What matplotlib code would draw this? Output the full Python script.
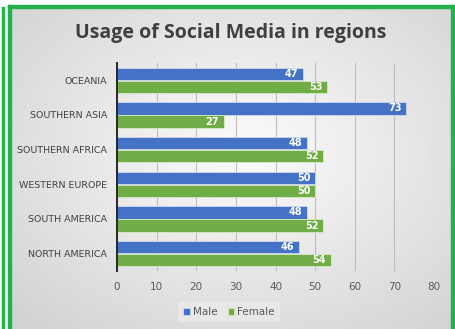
import numpy as np
import matplotlib
matplotlib.use("Agg")
import matplotlib.pyplot as plt
from matplotlib.patches import Rectangle

regions = ["OCEANIA", "SOUTHERN ASIA", "SOUTHERN AFRICA", "WESTERN EUROPE", "SOUTH AMERICA", "NORTH AMERICA"]
male = [47, 73, 48, 50, 48, 46]
female = [53, 27, 52, 50, 52, 54]
xticks = [0, 10, 20, 30, 40, 50, 60, 70, 80]

W, H = 455, 329
fig = plt.figure(figsize=(W / 100, H / 100), dpi=100)
fig.patch.set_facecolor("white")

# background gradient panel
bg = fig.add_axes([9 / W, 0, (452 - 9) / W, (H - 6) / H])
bg.set_axis_off()
yy, xx = np.mgrid[0:200, 0:300]
cx, cy = 160, 90
r = np.sqrt(((xx - cx) / 300) ** 2 + ((yy - cy) / 200) ** 2)
val = 0.985 - 0.22 * r
val = np.clip(val, 0.83, 0.985)
bg.imshow(val, cmap="gray", vmin=0, vmax=1, aspect="auto", extent=[0, 1, 0, 1])
bg.set_xlim(0, 1)
bg.set_ylim(0, 1)

# frame borders
gc = "#22B14C"
fig.patches.append(Rectangle((8 / W, -0.01), 2.5 / W, (H - 5) / H + 0.01, transform=fig.transFigure,
                             color=gc, zorder=5))
fig.patches.append(Rectangle((451 / W, -0.01), 2.5 / W, (H - 5) / H + 0.01, transform=fig.transFigure,
                             color=gc, zorder=5))
fig.patches.append(Rectangle((8 / W, (H - 7.5) / H), (454 - 8) / W, 2.5 / H, transform=fig.transFigure,
                             color=gc, zorder=5))
fig.patches.append(Rectangle((1.5 / W, -0.01), 2 / W, (H - 7) / H + 0.01, transform=fig.transFigure,
                             color=gc, zorder=5))

# main axes: x 117..434, y 63..271 (pixels from top)
ax = fig.add_axes([117 / W, (H - 271) / H, (434 - 117) / W, (271 - 63) / H])
ax.set_facecolor("none")

n = len(regions)
y = np.arange(n)
h = 0.36
ax.barh(y - h / 2 - 0.01, male, height=h, color="#4472C4", edgecolor="#D0DAF0", linewidth=0.6, label="Male", zorder=3)
ax.barh(y + h / 2 + 0.01, female, height=h, color="#70AD47", edgecolor="#D5EBC8", linewidth=0.6, label="Female", zorder=3)

for i in range(n):
    ax.text(male[i] - 1.2, y[i] - h / 2 - 0.01, str(male[i]), ha="right", va="center",
            color="white", fontsize=7, fontweight="bold", zorder=4)
    ax.text(female[i] - 1.2, y[i] + h / 2 + 0.01, str(female[i]), ha="right", va="center",
            color="white", fontsize=7, fontweight="bold", zorder=4)

ax.set_ylim(n - 0.5, -0.5)
ax.set_xlim(0, 80)
ax.set_xticks(xticks)
ax.set_xticklabels([str(t) for t in xticks], color="#595959", fontsize=7.5)
ax.set_yticks(y)
ax.set_yticklabels(regions, color="#404040", fontsize=6.8)
ax.tick_params(axis="both", length=0, pad=8)
ax.tick_params(axis="y", pad=7)
ax.grid(axis="x", color="#BEBEBE", linewidth=0.8, zorder=0)
for s in ["top", "right", "bottom"]:
    ax.spines[s].set_visible(False)
ax.spines["left"].set_color("#262626")
ax.spines["left"].set_linewidth(1.4)
ax.spines["left"].set_zorder(5)

fig.text(231 / W, 1 - 33 / H, "Usage of Social Media in regions", ha="center", va="center",
         fontsize=14, fontweight="bold", color="#404040", family="Open Sans")

leg = fig.legend(loc="center", bbox_to_anchor=(229 / W, 1 - 312 / H), ncol=2, frameon=True,
                 fontsize=7.5, handlelength=0.6, handleheight=0.6, handletextpad=0.3,
                 columnspacing=1.0, borderpad=0.5)
leg.get_frame().set_facecolor("#EBEBEB")
leg.get_frame().set_edgecolor("none")
for t in leg.get_texts():
    t.set_color("#595959")

fig.savefig("out.png", dpi=100)
